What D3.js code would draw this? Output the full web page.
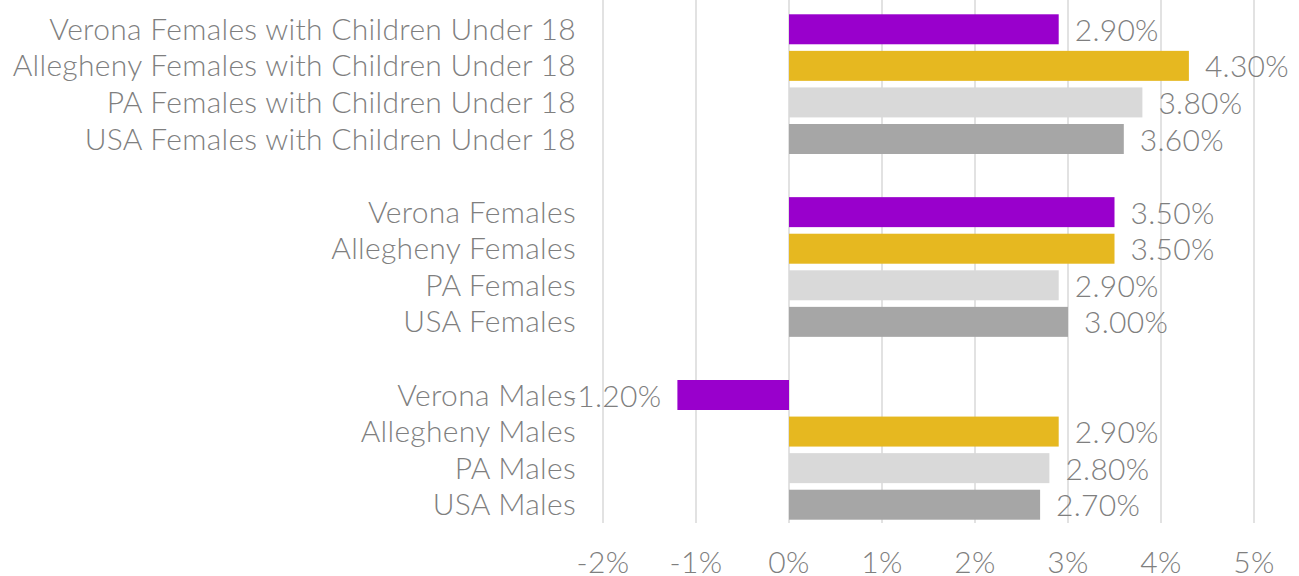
<!DOCTYPE html>
<html>
<head>
<meta charset="utf-8">
<script src="https://cdn.jsdelivr.net/npm/d3@7"></script>
<style>
  body { margin: 0; background: #fff; }
  svg text { font-family: Lato, "Open Sans", sans-serif; font-weight: 300; fill: #7f7f7f; font-size: 30px; letter-spacing: 0.3px; }
</style>
</head>
<body>
<svg id="chart" width="1299" height="576"></svg>
<script>
// Categories top to bottom; blank slots keep the gaps between groups
var categories = ['Verona Females with Children Under 18', 'Allegheny Females with Children Under 18',
                  'PA Females with Children Under 18', 'USA Females with Children Under 18', 'gap1',
                  'Verona Females', 'Allegheny Females', 'PA Females', 'USA Females', 'gap2',
                  'Verona Males', 'Allegheny Males', 'PA Males', 'USA Males'];
var values = [2.9, 4.3, 3.8, 3.6, null,
              3.5, 3.5, 2.9, 3.0, null,
              -1.2, 2.9, 2.8, 2.7];
var places = ['Verona', 'Allegheny', 'PA', 'USA', '',
              'Verona', 'Allegheny', 'PA', 'USA', '',
              'Verona', 'Allegheny', 'PA', 'USA'];
var tickValues = [-2, -1, 0, 1, 2, 3, 4, 5];

var colors = d3.scaleOrdinal()
  .domain(['Verona', 'Allegheny', 'PA', 'USA'])
  .range(['#9900cc', '#e6b820', '#d9d9d9', '#a6a6a6']);

var svg = d3.select('#chart');

var x = d3.scaleLinear().domain([-2, 5]).range([603, 1254]);
var y = d3.scaleBand().domain(categories).range([11, 523]).paddingInner(0.18).paddingOuter(0.09);

// gridlines
svg.append('g')
  .selectAll('line')
  .data(tickValues)
  .join('line')
  .attr('x1', d => x(d)).attr('x2', d => x(d))
  .attr('y1', 0).attr('y2', 523)
  .attr('stroke', '#d9d9d9')
  .attr('stroke-width', 1.5);

// tick labels
svg.append('g')
  .selectAll('text')
  .data(tickValues)
  .join('text')
  .attr('x', d => x(d))
  .attr('y', 562)
  .attr('dy', '0.35em')
  .attr('text-anchor', 'middle')
  .text(d => d + '%');

var rows = categories.map((c, i) => ({cat: c, v: values[i], place: places[i]}))
  .filter(d => d.v !== null);

// bars
svg.append('g')
  .selectAll('rect')
  .data(rows)
  .join('rect')
  .attr('x', d => x(Math.min(0, d.v)))
  .attr('width', d => Math.abs(x(d.v) - x(0)))
  .attr('y', d => y(d.cat))
  .attr('height', y.bandwidth())
  .attr('fill', d => colors(d.place));

// category labels
svg.append('g')
  .selectAll('text')
  .data(rows)
  .join('text')
  .attr('x', 576)
  .attr('y', d => y(d.cat) + y.bandwidth() / 2)
  .attr('dy', '0.35em')
  .attr('text-anchor', 'end')
  .text(d => d.cat);

// value labels
svg.append('g')
  .selectAll('text')
  .data(rows)
  .join('text')
  .attr('x', d => d.v < 0 ? x(d.v) - 16 : x(d.v) + 16)
  .attr('y', d => y(d.cat) + y.bandwidth() / 2 + 1)
  .attr('dy', '0.35em')
  .attr('text-anchor', d => d.v < 0 ? 'end' : 'start')
  .text(d => d.v.toFixed(2) + '%');
</script>
</body>
</html>
